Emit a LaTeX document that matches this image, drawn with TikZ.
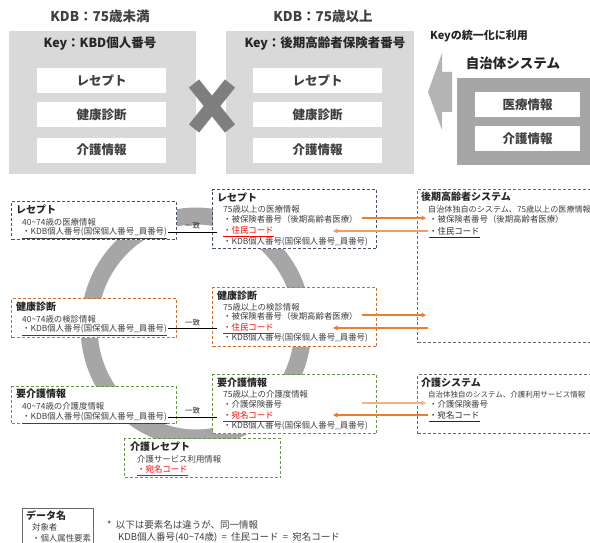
\documentclass[tikz,border=0pt]{standalone}
\usepackage{fontspec}
\setmainfont{Noto Sans CJK JP}
\usetikzlibrary{arrows.meta}
\definecolor{lightbox}{HTML}{D9D9D9}
\definecolor{darkbox}{HTML}{A6A6A6}
\definecolor{xgray}{HTML}{7F7F7F}
\definecolor{arrowgray}{HTML}{B4B4B4}
\definecolor{ringgray}{HTML}{A6A6A6}
\definecolor{navyc}{HTML}{44546A}
\definecolor{orangec}{RGB}{201,113,50}
\definecolor{greenc}{RGB}{105,150,65}
\definecolor{grayc}{RGB}{105,105,105}
\definecolor{arrdark}{HTML}{ED7D31}
\definecolor{arrlight}{HTML}{F4B183}
\definecolor{bodygray}{HTML}{404040}
\definecolor{titlegray}{HTML}{262626}
\definecolor{redc}{HTML}{FF0000}
\begin{document}
\begin{tikzpicture}[x=1pt,y=-1pt,
  txt/.style={anchor=west,inner sep=0pt,text height=.88em,text depth=.12em,font=\fontsize{8.4}{10}\selectfont,text=bodygray},
  redtxt/.style={txt,text=redc},
  ttl/.style={anchor=west,inner sep=0pt,text height=.88em,text depth=.12em,font=\fontsize{10}{12}\selectfont\bfseries,text=titlegray},
  bigttl/.style={inner sep=0pt,text height=.88em,text depth=.12em,font=\fontsize{13.5}{15}\selectfont\bfseries,text=bodygray},
  keyttl/.style={inner sep=0pt,text height=.88em,text depth=.12em,font=\fontsize{12.5}{14}\selectfont\bfseries,text=titlegray},
  whitebox/.style={fill=white,inner sep=0pt,anchor=north west,minimum width=129pt,minimum height=25pt,font=\fontsize{12.5}{14}\selectfont\bfseries,text=bodygray},
  dbox/.style={draw,dash pattern=on 3pt off 2pt,line width=1pt,fill=white,inner sep=0pt,anchor=north west},
  match/.style={draw=black,line width=0.9pt},
  matchlbl/.style={inner sep=0pt,font=\fontsize{7.5}{9}\selectfont,text=titlegray},
  oarr/.style={line width=1.1pt,-{Triangle[width=4.5pt,length=4.5pt]}}
]
\useasboundingbox (0,0) rectangle (590,543);
\clip (0,0) rectangle (590,543);
\fill[white] (0,0) rectangle (590,543);

% ===== top section =====
\node[bigttl] (t1) at (100,18) {KDB：75歳未満};
\node[bigttl] (t2) at (323,18) {KDB：75歳以上};
\node[fill=lightbox,inner sep=0pt,anchor=north west,minimum width=187pt,minimum height=143pt] (kdbL) at (9,31) {};
\node[fill=lightbox,inner sep=0pt,anchor=north west,minimum width=188pt,minimum height=143pt] (kdbR) at (226,31) {};
\node[keyttl] (keyL) at (100,44) {Key：KBD個人番号};
\node[keyttl] (keyR) at (325,44) {Key：後期高齢者保険者番号};
\node[whitebox] (wl1) at (37,68) {レセプト};
\node[whitebox] (wl2) at (37,102) {健康診断};
\node[whitebox] (wl3) at (37,137.5) {介護情報};
\node[whitebox] (wr1) at (253,68) {レセプト};
\node[whitebox] (wr2) at (253,102) {健康診断};
\node[whitebox] (wr3) at (253,137.5) {介護情報};
% X mark
\draw[xgray,line width=13pt] (194,83.5) -- (230,128.5);
\draw[xgray,line width=13pt] (230,83.5) -- (194,128.5);
% arrow
\fill[arrowgray] (428,92) -- (442,53) -- (442,72) -- (452,72) -- (452,112) -- (442,112) -- (442,130) -- cycle;
\node[anchor=west,inner sep=0pt,text height=.88em,text depth=.12em,font=\fontsize{11}{13}\selectfont\bfseries,text=titlegray] (keyuse) at (430,36) {Keyの統一化に利用};
\node[bigttl,text=titlegray] (jichi) at (513,65) {自治体システム};
\node[fill=darkbox,inner sep=0pt,anchor=north west,minimum width=133pt,minimum height=87pt] (jbox) at (457,78) {};
\node[whitebox,minimum width=105pt] (jw1) at (475,92) {医療情報};
\node[whitebox,minimum width=105pt] (jw2) at (475,126) {介護情報};

% ===== bottom section =====
\draw[ringgray,line width=17pt] (196,327) ellipse [x radius=107, y radius=111];

% left receipt
\node[dbox,draw=navyc,minimum width=165pt,minimum height=38pt] (bL1) at (11,201) {};
\node[ttl] (bL1t) at (16,210) {レセプト};
\node[txt] (bL1a) at (22,222) {40\textasciitilde74歳の医療情報};
\node[txt] (bL1b) at (22,231) {\underline{・KDB個人番号(国保個人番号\_員番号)}};
% right receipt
\node[dbox,draw=navyc,minimum width=164pt,minimum height=59pt] (bR1) at (212,189) {};
\node[ttl] (bR1t) at (217,198) {レセプト};
\node[txt] (bR1a) at (223,209) {75歳以上の医療情報};
\node[txt] (bR1b) at (223,219) {・被保険者番号（後期高齢者医療）};
\node[redtxt] (bR1c) at (223,230) {\underline{・住民コード}};
\node[txt] (bR1d) at (223,241) {・KDB個人番号(国保個人番号\_員番号)};
% koki system
\node[dbox,draw=grayc,minimum width=190pt,minimum height=153pt] (sys1) at (417,189) {};
\node[ttl] (sys1t) at (421,197) {後期高齢者システム};
\node[txt,font=\fontsize{8.1}{10}\selectfont] (sys1a) at (428,209) {自治体独自のシステム、75歳以上の医療情報};
\node[txt] (sys1b) at (429,219) {・被保険者番号（後期高齢者医療）};
\node[txt,text=titlegray] (sys1c) at (429,231) {\underline{・住民コード}};

% left kenshin
\node[dbox,draw=orangec,minimum width=165pt,minimum height=39pt] (bL2) at (11,298) {};
\node[ttl] (bL2t) at (16,307) {健康診断};
\node[txt] (bL2a) at (22,319) {40\textasciitilde74歳の検診情報};
\node[txt] (bL2b) at (22,328) {\underline{・KDB個人番号(国保個人番号\_員番号)}};
% right kenshin
\node[dbox,draw=orangec,minimum width=164pt,minimum height=59pt] (bR2) at (212,287) {};
\node[ttl] (bR2t) at (217,296) {健康診断};
\node[txt] (bR2a) at (223,307) {75歳以上の検診情報};
\node[txt] (bR2b) at (223,316) {・被保険者番号（後期高齢者医療）};
\node[redtxt] (bR2c) at (223,327) {\underline{・住民コード}};
\node[txt] (bR2d) at (223,337) {・KDB個人番号(国保個人番号\_員番号)};

% left kaigo
\node[dbox,draw=greenc,minimum width=165pt,minimum height=37pt] (bL3) at (11,386) {};
\node[ttl] (bL3t) at (16,394) {要介護情報};
\node[txt] (bL3a) at (22,406) {40\textasciitilde74歳の介護度情報};
\node[txt] (bL3b) at (22,416) {\underline{・KDB個人番号(国保個人番号\_員番号)}};
% right kaigo
\node[dbox,draw=greenc,minimum width=164pt,minimum height=59pt] (bR3) at (212,374) {};
\node[ttl] (bR3t) at (217,383) {要介護情報};
\node[txt] (bR3a) at (223,394) {75歳以上の介護度情報};
\node[txt] (bR3b) at (223,404) {・介護保険番号};
\node[redtxt] (bR3c) at (223,415) {\underline{・宛名コード}};
\node[txt] (bR3d) at (223,425) {・KDB個人番号(国保個人番号\_員番号)};
% kaigo system
\node[dbox,draw=grayc,minimum width=190pt,minimum height=59pt] (sys2) at (417,374) {};
\node[ttl] (sys2t) at (421,383) {介護システム};
\node[txt,font=\fontsize{7.5}{10}\selectfont] (sys2a) at (428,394) {自治体独自のシステム、介護利用サービス情報};
\node[txt] (sys2b) at (429,404) {・介護保険番号};
\node[txt,text=titlegray] (sys2c) at (429,415) {\underline{・宛名コード}};
% kaigo receipt
\node[dbox,draw=greenc,minimum width=156pt,minimum height=39pt] (bK) at (124,438) {};
\node[ttl] (bKt) at (130,447) {介護レセプト};
\node[txt] (bKa) at (137,459) {介護サービス利用情報};
\node[redtxt] (bKb) at (137,469) {\underline{・宛名コード}};

% match lines
\coordinate (m1a) at (168,232); \coordinate (m1b) at (217,232);
\coordinate (m2a) at (168,328.5); \coordinate (m2b) at (217,328.5);
\coordinate (m3a) at (168,417); \coordinate (m3b) at (217,417);
\draw[match] (m1a) -- node[matchlbl,above=2pt] (lb1) {一致} (m1b);
\draw[match] (m2a) -- node[matchlbl,above=2pt] (lb2) {一致} (m2b);
\draw[match] (m3a) -- node[matchlbl,above=2pt] (lb3) {一致} (m3b);

% orange arrows
\coordinate (a1s) at (362,218); \coordinate (a1e) at (426,218);
\coordinate (a2s) at (428,231); \coordinate (a2e) at (333,231);
\coordinate (a3s) at (362,315); \coordinate (a3e) at (426,315);
\coordinate (a4s) at (428,328); \coordinate (a4e) at (333,328);
\coordinate (a5s) at (362,403); \coordinate (a5e) at (426,403);
\coordinate (a6s) at (428,415); \coordinate (a6e) at (333,415);
\draw[oarr,arrdark] (a1s) -- (a1e);
\draw[oarr,arrlight!60!arrdark] (a2s) -- (a2e);
\draw[oarr,arrdark] (a3s) -- (a3e);
\draw[oarr,arrdark] (a4s) -- (a4e);
\draw[oarr,arrlight] (a5s) -- (a5e);
\draw[oarr,arrdark] (a6s) -- (a6e);

% legend
\node[draw=grayc,line width=0.8pt,inner sep=0pt,anchor=north west,minimum width=71pt,minimum height=45pt] (leg) at (22,508) {};
\node[ttl] (legt) at (26,516) {データ名};
\node[txt] (lega) at (32,527) {対象者};
\node[txt] (legb) at (32,538) {・個人属性要素};
% footnote
\node[txt,font=\fontsize{9.5}{11}\selectfont] (fn1) at (107,525) {*\ \ 以下は要素名は違うが、同一情報};
\node[txt,font=\fontsize{9.5}{11}\selectfont] (fn2) at (118,537) {KDB個人番号(40\textasciitilde74歳)\ \ =\ \ 住民コード\ \ =\ \ 宛名コード};
\end{tikzpicture}
\end{document}
